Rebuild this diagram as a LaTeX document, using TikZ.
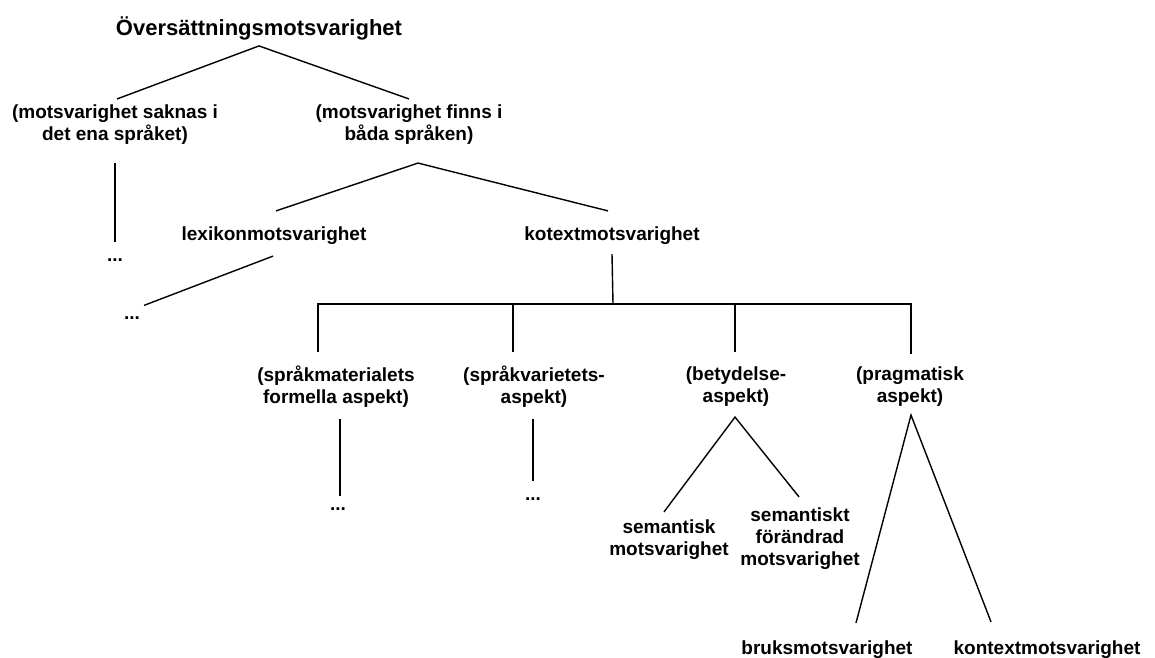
\documentclass[tikz,border=0pt]{standalone}
\usepackage{fontspec}
\setmainfont{Liberation Sans}
\usepackage{tikz}
\usetikzlibrary{positioning}

\begin{document}
\begin{tikzpicture}[
        x=1pt, y=-1pt,
        term/.style={font=\bfseries\fontsize{19}{22}\selectfont, align=center, inner sep=3pt},
        heading/.style={font=\bfseries\fontsize{22}{26}\selectfont, inner sep=6pt},
        dots/.style={font=\bfseries\fontsize{19}{22}\selectfont, inner sep=2pt},
        branch/.style={draw, line width=1.4pt}
    ]
    \useasboundingbox (0,0) rectangle (1155,657);

    % Top level
    \node[heading] (root) at (259,28) {Översättningsmotsvarighet};
    \node[term] (saknas) at (115,125) {(motsvarighet saknas i\\det ena språket)};
    \node[term] (finns) at (409,125) {(motsvarighet finns i\\båda språken)};
    \node[dots] (saknasdots) at (115,260) {...};

    \draw[branch] ([xshift=2pt,yshift=3pt]saknas.north) -- (root.south) -- ([yshift=3pt]finns.north);
    \draw[branch] ([yshift=-15pt]saknas.south) -- ([yshift=14pt]saknasdots.north);

    % Both languages
    \node[term] (lexikon) at (274,236) {lexikonmotsvarighet};
    \node[term] (kotext) at (612,236) {kotextmotsvarighet};
    \node[dots] (lexikondots) at (132,318) {...};

    \draw[branch] ([xshift=2pt,yshift=13pt]lexikon.north) -- ([xshift=9pt,yshift=-15pt]finns.south)
        -- ([xshift=-4pt,yshift=13pt]kotext.north);
    \draw[branch] ([xshift=-1pt,yshift=-8pt]lexikon.south) -- ([xshift=12pt,yshift=9pt]lexikondots.north);

    % Aspects of kotext
    \node[term] (formell) at (336,387) {(språkmaterialets\\formella aspekt)};
    \node[term] (varietet) at (534,387) {(språkvarietets-\\aspekt)};
    \node[term] (betydelse) at (736,387) {(betydelse-\\aspekt)};
    \node[term] (pragmatik) at (910,387) {(pragmatisk\\aspekt)};
    \coordinate (kotextbar) at (613,304);

    \draw[branch] ([yshift=-6pt]kotext.south) -- (kotextbar);
    \draw[branch] ([xshift=-18pt,yshift=11pt]formell.north) |- (kotextbar) -| ([xshift=1pt,yshift=10pt]pragmatik.north);
    \draw[branch] ([xshift=-21pt,yshift=11pt]varietet.north) -- ([xshift=-21pt]varietet.north |- kotextbar);
    \draw[branch] ([xshift=-1pt,yshift=12pt]betydelse.north) -- ([xshift=-1pt]betydelse.north |- kotextbar);

    % Leaves
    \node[dots] (formelldots) at (338,509) {...};
    \node[dots] (varietetdots) at (533,499) {...};
    \node[term] (semantisk) at (669,540) {semantisk\\motsvarighet};
    \node[term] (forandrad) at (800,539) {semantiskt\\förändrad\\motsvarighet};
    \node[term] (bruks) at (827,650) {bruksmotsvarighet};
    \node[term] (kontext) at (1047,650) {kontextmotsvarighet};

    \draw[branch] ([xshift=4pt,yshift=-8pt]formell.south) -- ([xshift=4pt,yshift=9pt]formell.south |- formelldots.north);
    \draw[branch] ([xshift=-1pt,yshift=-8pt]varietet.south) -- ([xshift=-1pt,yshift=14pt]varietet.south |- varietetdots.north);
    \draw[branch] ([xshift=-5pt,yshift=5pt]semantisk.north) -- ([xshift=-1pt,yshift=-7pt]betydelse.south)
        -- ([xshift=-1pt,yshift=8pt]forandrad.north);
    \draw[branch] ([xshift=29pt,yshift=15pt]bruks.north) -- ([xshift=1pt,yshift=-5pt]pragmatik.south)
        -- ([xshift=-56pt,yshift=16pt]kontext.north);
\end{tikzpicture}
\end{document}
